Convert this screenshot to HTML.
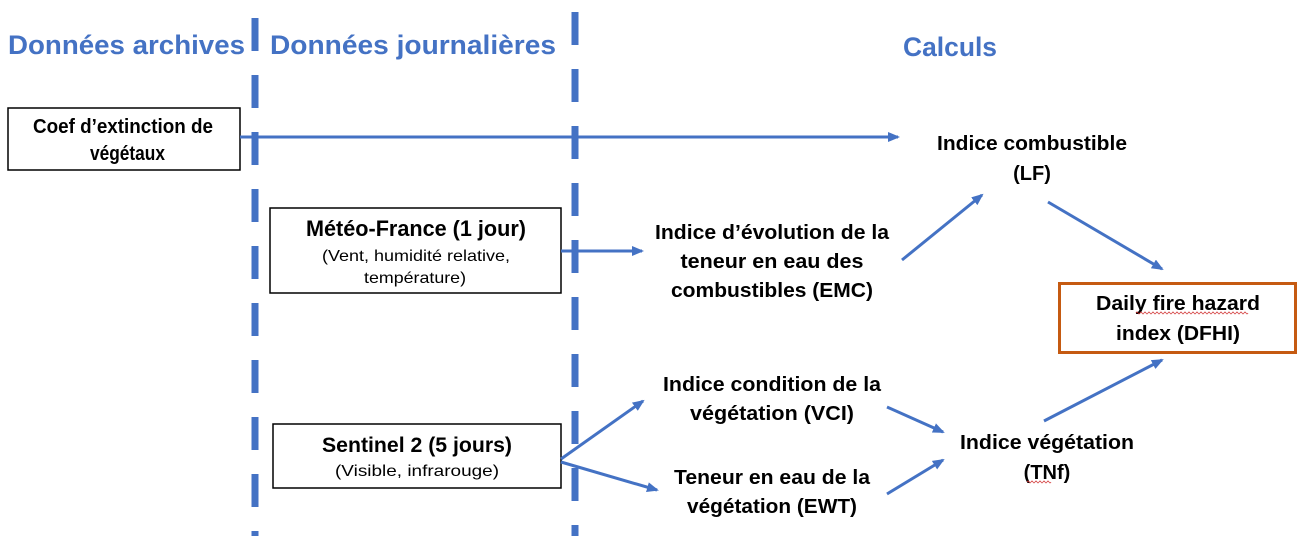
<!DOCTYPE html>
<html><head><meta charset="utf-8"><style>
html,body{margin:0;padding:0;background:#fff;}
svg{display:block}
text{font-family:"Liberation Sans Narrow","Liberation Sans",sans-serif;font-weight:bold;fill:#000;}
.t{fill:#4472C4;font-size:27px;}
.b{font-size:20px;}
.s{font-size:16px;font-weight:normal;}
</style></head><body>
<svg width="1302" height="536" viewBox="0 0 1302 536" xmlns="http://www.w3.org/2000/svg">
<defs>
<marker id="a" markerWidth="14" markerHeight="12" refX="10" refY="5" orient="auto" markerUnits="userSpaceOnUse">
<path d="M0,0 L12,5 L0,10 Z" fill="#4472C4"/>
</marker>
</defs>
<g stroke="#4472C4" stroke-width="7" fill="none">
<line x1="255" y1="18" x2="255" y2="536" stroke-dasharray="33 24"/>
<line x1="575" y1="12" x2="575" y2="536" stroke-dasharray="33 24"/>
</g>
<text class="t" x="8" y="54" textLength="237" lengthAdjust="spacingAndGlyphs">Données archives</text>
<text class="t" x="270" y="54" textLength="286" lengthAdjust="spacingAndGlyphs">Données journalières</text>
<text class="t" x="903" y="56" textLength="94" lengthAdjust="spacingAndGlyphs">Calculs</text>

<rect x="8" y="108" width="232" height="62" fill="#fff" stroke="#000" stroke-width="1.5"/>
<text class="b" x="123" y="133" text-anchor="middle" textLength="180" lengthAdjust="spacingAndGlyphs">Coef d’extinction de</text>
<text class="b" x="90" y="160" textLength="75" lengthAdjust="spacingAndGlyphs">végétaux</text>

<rect x="270" y="208" width="291" height="85" fill="#fff" stroke="#000" stroke-width="1.5"/>
<text x="416" y="236" text-anchor="middle" style="font-size:22px" textLength="220" lengthAdjust="spacingAndGlyphs">Météo-France (1 jour)</text>
<text class="s" x="416" y="261" text-anchor="middle" textLength="188" lengthAdjust="spacingAndGlyphs">(Vent, humidité relative,</text>
<text class="s" x="415" y="283" text-anchor="middle" textLength="102" lengthAdjust="spacingAndGlyphs">température)</text>

<rect x="273" y="424" width="288" height="64" fill="#fff" stroke="#000" stroke-width="1.5"/>
<text x="417" y="452" text-anchor="middle" style="font-size:21px" textLength="190" lengthAdjust="spacingAndGlyphs">Sentinel 2 (5 jours)</text>
<text class="s" x="417" y="476" text-anchor="middle" textLength="164" lengthAdjust="spacingAndGlyphs">(Visible, infrarouge)</text>

<rect x="1059.5" y="283.5" width="236" height="69" fill="#fff" stroke="#C55A11" stroke-width="3"/>
<text class="b" x="1178" y="310" text-anchor="middle" textLength="164" lengthAdjust="spacingAndGlyphs">Daily fire hazard</text>
<text class="b" x="1178" y="340" text-anchor="middle" textLength="124" lengthAdjust="spacingAndGlyphs">index (DFHI)</text>
<path d="M1136,313 q1,-2 2,0 t2,0 t2,0 t2,0 t2,0 t2,0 t2,0 t2,0 t2,0 t2,0 t2,0 t2,0 t2,0 t2,0 t2,0 t2,0 t2,0 t2,0 t2,0 t2,0 t2,0 t2,0 t2,0 t2,0 t2,0 t2,0 t2,0 t2,0 t2,0 t2,0 t2,0 t2,0 t2,0 t2,0 t2,0 t2,0 t2,0 t2,0 t2,0 t2,0 t2,0 t2,0 t2,0 t2,0 t2,0 t2,0 t2,0 t2,0 t2,0 t2,0 t2,0 t2,0 t2,0 t2,0 t2,0 t2,0" stroke="#d03030" stroke-width="0.8" fill="none"/>

<text class="b" x="1032" y="150" text-anchor="middle" textLength="190" lengthAdjust="spacingAndGlyphs">Indice combustible</text>
<text class="b" x="1032" y="180" text-anchor="middle">(LF)</text>

<text class="b" x="772" y="239" text-anchor="middle" textLength="234" lengthAdjust="spacingAndGlyphs">Indice d’évolution de la</text>
<text class="b" x="772" y="268" text-anchor="middle" textLength="183" lengthAdjust="spacingAndGlyphs">teneur en eau des</text>
<text class="b" x="772" y="297" text-anchor="middle" textLength="202" lengthAdjust="spacingAndGlyphs">combustibles (EMC)</text>

<text class="b" x="772" y="391" text-anchor="middle" textLength="218" lengthAdjust="spacingAndGlyphs">Indice condition de la</text>
<text class="b" x="772" y="420" text-anchor="middle" textLength="164" lengthAdjust="spacingAndGlyphs">végétation (VCI)</text>

<text class="b" x="772" y="484" text-anchor="middle" textLength="196" lengthAdjust="spacingAndGlyphs">Teneur en eau de la</text>
<text class="b" x="772" y="513" text-anchor="middle" textLength="170" lengthAdjust="spacingAndGlyphs">végétation (EWT)</text>

<text class="b" x="1047" y="449" text-anchor="middle" textLength="174" lengthAdjust="spacingAndGlyphs">Indice végétation</text>
<text class="b" x="1047" y="479" text-anchor="middle">(TNf)</text>
<path d="M1027,482 q1,-2 2,0 t2,0 t2,0 t2,0 t2,0 t2,0 t2,0 t2,0 t2,0 t2,0 t2,0 t2,0" stroke="#d03030" stroke-width="0.8" fill="none"/>

<g stroke="#4472C4" stroke-width="3" fill="none" marker-end="url(#a)">
<line x1="240" y1="137" x2="898" y2="137"/>
<line x1="561" y1="251" x2="642" y2="251"/>
<line x1="902" y1="260" x2="982" y2="195"/>
<line x1="1048" y1="202" x2="1162" y2="269"/>
<line x1="1044" y1="421" x2="1162" y2="360"/>
<line x1="887" y1="407" x2="943" y2="432"/>
<line x1="887" y1="494" x2="943" y2="460"/>
<line x1="561" y1="459" x2="643" y2="401"/>
<line x1="561" y1="462" x2="657" y2="490"/>
</g>
</svg>
</body></html>
